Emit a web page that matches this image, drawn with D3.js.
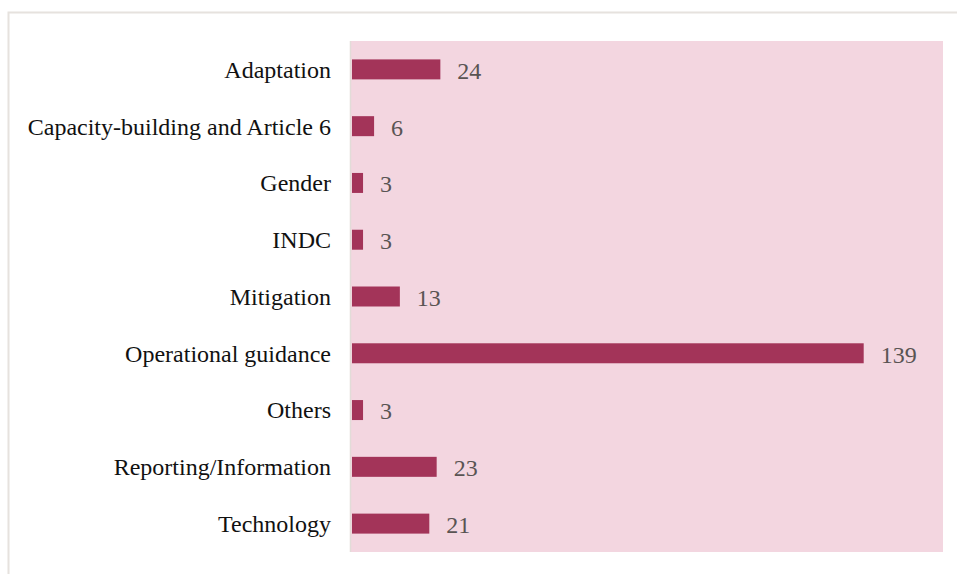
<!DOCTYPE html>
<html>
<head>
<meta charset="utf-8">
<script src="https://cdn.jsdelivr.net/npm/d3@7"></script>
<style>
  body { margin: 0; background: #fff; }
  text { font-family: 'Liberation Serif', 'Times New Roman', Times, serif; }
</style>
</head>
<body>
<svg id="chart"></svg>
<script>
var categories = ['Adaptation', 'Capacity-building and Article 6', 'Gender', 'INDC', 'Mitigation',
    'Operational guidance', 'Others', 'Reporting/Information', 'Technology'];
var counts = [24, 6, 3, 3, 13, 139, 3, 23, 21];
var x_max = 160;

var width = 957, height = 574;
var plot = {left: 350, top: 41, right: 943, bottom: 552};

var svg = d3.select('#chart')
    .attr('width', width)
    .attr('height', height);

// outer frame (only top/left visible)
svg.append('rect')
    .attr('x', 8.5).attr('y', 12.5)
    .attr('width', 1000).attr('height', 700)
    .attr('fill', 'none')
    .attr('stroke', '#e6e2de')
    .attr('stroke-width', 2);

// plot background
svg.append('rect')
    .attr('x', plot.left).attr('y', plot.top)
    .attr('width', plot.right - plot.left)
    .attr('height', plot.bottom - plot.top)
    .attr('fill', '#f3d6e0');

var x = d3.scaleLinear()
    .domain([0, x_max])
    .range([plot.left + 2, plot.right - 2]);

var y = d3.scaleBand()
    .domain(categories)
    .range([plot.top, plot.bottom])
    .paddingInner(0.648)
    .paddingOuter(0.324);

// left axis line
svg.append('line')
    .attr('x1', plot.left + 0.5).attr('x2', plot.left + 0.5)
    .attr('y1', plot.top).attr('y2', plot.bottom)
    .attr('stroke', '#e2dcd8')
    .attr('stroke-width', 1.5);

var rows = categories.map(function(c, i) { return {cat: c, val: counts[i]}; });

svg.selectAll('rect.bar')
    .data(rows)
    .enter().append('rect')
    .attr('class', 'bar')
    .attr('x', x(0))
    .attr('y', function(d) { return y(d.cat); })
    .attr('width', function(d) { return x(d.val) - x(0); })
    .attr('height', y.bandwidth())
    .attr('fill', '#a33459');

// category labels
svg.selectAll('text.cat')
    .data(rows)
    .enter().append('text')
    .attr('class', 'cat')
    .attr('x', plot.left - 19)
    .attr('y', function(d) { return y(d.cat) + y.bandwidth() / 2; })
    .attr('dy', '0.35em')
    .attr('text-anchor', 'end')
    .attr('font-size', 24)
    .attr('fill', '#111')
    .text(function(d) { return d.cat; });

// value labels
svg.selectAll('text.val')
    .data(rows)
    .enter().append('text')
    .attr('class', 'val')
    .attr('x', function(d) { return x(d.val) + 17; })
    .attr('y', function(d) { return y(d.cat) + y.bandwidth() / 2 + 1; })
    .attr('dy', '0.35em')
    .attr('font-size', 24)
    .attr('fill', '#595453')
    .text(function(d) { return d.val; });
</script>
</body>
</html>
